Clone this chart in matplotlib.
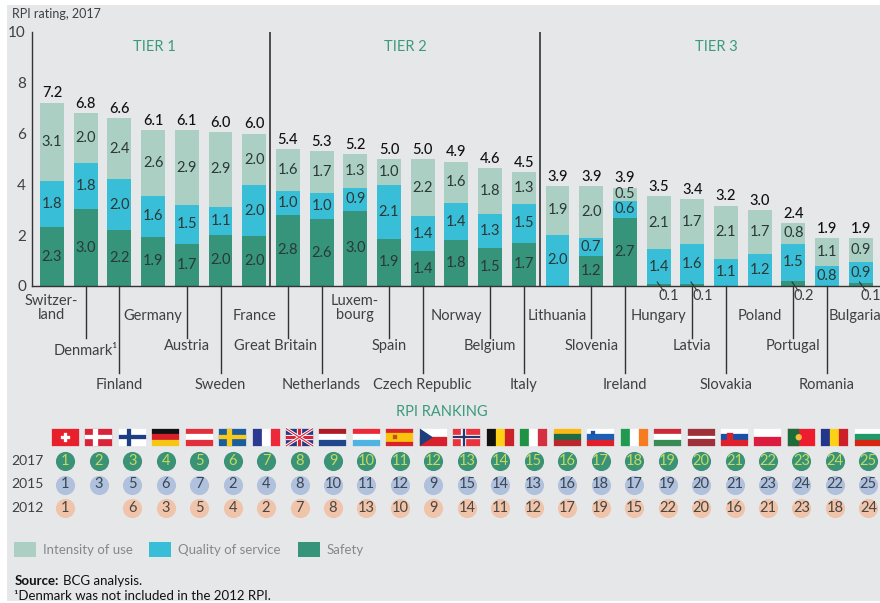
import matplotlib
matplotlib.use('Agg')
import matplotlib.pyplot as plt
from matplotlib.patches import Rectangle, Polygon, Circle
from matplotlib.transforms import blended_transform_factory

plt.rcParams['font.family'] = ['Lato', 'DejaVu Sans']

countries = ['Switzerland', 'Denmark', 'Finland', 'Germany', 'Austria', 'Sweden', 'France',
             'Great Britain', 'Netherlands', 'Luxembourg', 'Spain', 'Czech Republic', 'Norway',
             'Belgium', 'Italy', 'Lithuania', 'Slovenia', 'Ireland', 'Hungary', 'Latvia',
             'Slovakia', 'Poland', 'Portugal', 'Romania', 'Bulgaria']

# names as printed under the axis
names = ['Switzer-\nland', 'Denmark¹', 'Finland', 'Germany', 'Austria', 'Sweden', 'France',
         'Great Britain', 'Netherlands', 'Luxem-\nbourg', 'Spain', 'Czech Republic', 'Norway',
         'Belgium', 'Italy', 'Lithuania', 'Slovenia', 'Ireland', 'Hungary', 'Latvia',
         'Slovakia', 'Poland', 'Portugal', 'Romania', 'Bulgaria']

safety = [2.31, 3.01, 2.2, 1.93, 1.66, 2.02, 1.96, 2.79, 2.62, 2.96, 1.86, 1.36, 1.81,
          1.49, 1.7, 0, 1.16, 2.69, 0.08, 0.08, 0, 0, 0.2, 0, 0.1]
quality = [1.82, 1.82, 2.0, 1.61, 1.52, 1.1, 1.99, 0.96, 1.04, 0.91, 2.12, 1.39, 1.44,
           1.34, 1.52, 2.02, 0.72, 0.64, 1.36, 1.58, 1.07, 1.24, 1.46, 0.8, 0.86]
intensity = [3.08, 1.98, 2.4, 2.59, 2.94, 2.92, 2.04, 1.62, 1.66, 1.33, 1.02, 2.24, 1.64,
             1.81, 1.26, 1.91, 2.04, 0.54, 2.1, 1.74, 2.09, 1.74, 0.83, 1.1, 0.92]
totals = [7.2, 6.8, 6.6, 6.1, 6.1, 6.0, 6.0, 5.4, 5.3, 5.2, 5.0, 5.0, 4.9,
          4.6, 4.5, 3.9, 3.9, 3.9, 3.5, 3.4, 3.2, 3.0, 2.4, 1.9, 1.9]

rank_2017 = list(range(1, 26))
rank_2015 = [1, 3, 5, 6, 7, 2, 4, 8, 10, 11, 12, 9, 15, 14, 13, 16, 18, 17, 19, 20, 21, 23, 24, 22, 25]
rank_2012 = [1, None, 6, 3, 5, 4, 2, 7, 8, 13, 10, 9, 14, 11, 12, 17, 19, 15, 22, 20, 16, 21, 23, 18, 24]

tiers = ['TIER 1', 'TIER 2', 'TIER 3']

c_int = '#abcfc3'
c_qual = '#38bfd7'
c_safe = '#36947a'
c_bg = '#e6e7e9'
c_green = '#3a9a7e'
c_text = '#3d4044'

W, H = 880, 603
fig = plt.figure(figsize=(W / 100, H / 100), dpi=100, facecolor='white')

# overlay in pixel units, for background, flags and footer
ov = fig.add_axes([0, 0, 1, 1])
ov.set_xlim(0, W)
ov.set_ylim(H, 0)
ov.axis('off')
ov.add_patch(Rectangle((7, 5), W - 7, 596, color=c_bg, lw=0))

# bars: index i sits at 52 + 33.7*i px
bar_x0, bar_dx = 52, 33.7
left, y0_px, y10_px = 31.5, 286, 31.5
ax = fig.add_axes([left / W, (H - y0_px) / H, (W - left) / W, (y0_px - y10_px) / H])
ax.patch.set_alpha(0)
ax.set_xlim((left - bar_x0) / bar_dx, (W - bar_x0) / bar_dx)
ax.set_ylim(0, 10)

x = list(range(len(countries)))
bottom2 = [a + b for a, b in zip(safety, quality)]
tops = [a + b for a, b in zip(bottom2, intensity)]
b1 = ax.bar(x, safety, width=0.71, color=c_safe, label='Safety')
b2 = ax.bar(x, quality, width=0.71, bottom=safety, color=c_qual, label='Quality of service')
b3 = ax.bar(x, intensity, width=0.71, bottom=bottom2, color=c_int, label='Intensity of use')

for cont, vals in [(b1, safety), (b2, quality), (b3, intensity)]:
    labs = [f'{v:.1f}' if v >= 0.3 else '' for v in vals]
    ax.bar_label(cont, labels=labs, label_type='center', fontsize=10.5, color='#2c3836')

for i, t in enumerate(totals):
    ax.annotate(f'{t:.1f}', (i, tops[i]), xytext=(0, 1.5), textcoords='offset points', ha='center',
                va='bottom', fontsize=10.5, fontweight='medium', color='#111111')

for s in ['top', 'right']:
    ax.spines[s].set_visible(False)
ax.spines['left'].set_linewidth(1)
ax.spines['bottom'].set_linewidth(1)
ax.spines['left'].set_color('#333333')
ax.spines['bottom'].set_color('#333333')
ax.set_xticks([])
ax.set_yticks([0, 2, 4, 6, 8, 10])
ax.tick_params(axis='y', length=0, pad=4, labelsize=11, labelcolor=c_text)

# tier separators and titles
ax.vlines([6.47, 14.47], 0, 10, color='#333333', lw=1.2)
for name, xc in zip(tiers, [3.05, 10.5, 19.7]):
    ax.text(xc, 9.4, name, ha='center', va='center', fontsize=10.5, color=c_green)

# country names with their leader lines, three staggered rows
trans = blended_transform_factory(ax.transData, ov.transData)
for i, name in enumerate(names):
    row = i % 3
    line_end = [286, 337.5, 372.5][row]
    label_y = [316, 346, 385][row]
    dx = 0
    if name == 'Great Britain':
        dx = -0.37
    if name == 'Denmark¹':
        label_y = 351
    if name == 'Bulgaria':
        dx = -0.17
    if '\n' in name:
        label_y = 308
        dx = -0.02
    if row > 0:
        ax.plot([i, i], [286, line_end], transform=trans, color='#333333', lw=1, clip_on=False)
    ax.text(i + dx, label_y, name, transform=trans, ha='center', va='center', fontsize=10.5,
            color=c_text, linespacing=0.95, clip_on=False)

# small safety values that don't fit in their bars
for i, v in enumerate(safety):
    if 0 < v < 0.3:
        ax.plot([i - 0.04, i + 0.15], [282, 291], transform=trans, color='#333333', lw=0.8, clip_on=False)
        ax.text(i + 0.3, 295.5, f'{v:.1f}', transform=trans, ha='center', va='center', fontsize=10.5,
                color=c_text, clip_on=False)

ov.text(12, 13.5, 'RPI rating, 2017', fontsize=9, color=c_text, va='center')
ov.text(442, 412, 'RPI RANKING', fontsize=10.5, color=c_green, ha='center', va='center')

# flags, drawn in pixels
fw, fh = 27, 17.5
rank_x0, rank_dx = 65.3, 33.46
fy = 428.5

flag_h = {'Germany': ['#111111', '#d8202a', '#f7c612'], 'Austria': ['#e0303c', '#ffffff', '#e0303c'],
          'Netherlands': ['#ae1c28', '#ffffff', '#21468b'], 'Luxembourg': ['#ed2939', '#ffffff', '#4fb3e3'],
          'Lithuania': ['#fdb913', '#1f6b45', '#b9272d'], 'Slovenia': ['#ffffff', '#1a5fb4', '#e01f2d'],
          'Hungary': ['#ce2939', '#ffffff', '#3a8a55'], 'Slovakia': ['#ffffff', '#1a50a8', '#e01f2d'],
          'Bulgaria': ['#ffffff', '#1f9a6b', '#d62612'], 'Poland': ['#ffffff', '#dc1c3e'],
          'Spain': ['#d8232a', '#f8c20e', '#f8c20e', '#d8232a'], 'Czech Republic': ['#ffffff', '#d7202c'],
          'Latvia': ['#9e3039', '#9e3039', '#ffffff', '#9e3039', '#9e3039']}
flag_v = {'France': ['#2b3990', '#ffffff', '#ed2939'], 'Belgium': ['#111111', '#fcd116', '#ce2028'],
          'Italy': ['#1f9245', '#ffffff', '#d43040'], 'Ireland': ['#1f9a50', '#ffffff', '#f57c20'],
          'Romania': ['#23368c', '#fcd116', '#ce2028']}
flag_cross = {'Denmark': ('#d8233a', '#ffffff', None), 'Finland': ('#ffffff', '#1f3f85', None),
              'Sweden': ('#1b5d9c', '#f8c91a', None), 'Norway': ('#e8343c', '#ffffff', '#23366e')}


def rect(fx, rx, ry, rw, rh, col):
    ov.add_patch(Rectangle((fx + rx, fy + ry), rw, rh, facecolor=col, edgecolor=col, lw=0.2))


for i, c in enumerate(countries):
    fx = rank_x0 + rank_dx * i - fw / 2
    if c in flag_h:
        n = len(flag_h[c])
        for k, col in enumerate(flag_h[c]):
            rect(fx, 0, k * fh / n, fw, fh / n, col)
    elif c in flag_v:
        n = len(flag_v[c])
        for k, col in enumerate(flag_v[c]):
            rect(fx, k * fw / n, 0, fw / n, fh, col)
    elif c == 'Switzerland':
        rect(fx, 0, 0, fw, fh, '#e8202c')
        rect(fx, fw / 2 - 4.5, fh / 2 - 1.5, 9, 3, '#ffffff')
        rect(fx, fw / 2 - 1.5, fh / 2 - 4.5, 3, 9, '#ffffff')
    elif c in flag_cross:
        base, cross, inner = flag_cross[c]
        rect(fx, 0, 0, fw, fh, base)
        rect(fx, 0, fh / 2 - 2.2, fw, 4.4, cross)
        rect(fx, 8, 0, 4.4, fh, cross)
        if inner:
            rect(fx, 0, fh / 2 - 1, fw, 2, inner)
            rect(fx, 9.2, 0, 2, fh, inner)
    elif c == 'Great Britain':
        rect(fx, 0, 0, fw, fh, '#27387e')
        for col, lw in [('#ffffff', 2.2), ('#d8233a', 0.8)]:
            ov.plot([fx, fx + fw], [fy, fy + fh], color=col, lw=lw, solid_capstyle='butt')
            ov.plot([fx, fx + fw], [fy + fh, fy], color=col, lw=lw, solid_capstyle='butt')
        rect(fx, 0, fh / 2 - 2.6, fw, 5.2, '#ffffff')
        rect(fx, fw / 2 - 2.6, 0, 5.2, fh, '#ffffff')
        rect(fx, 0, fh / 2 - 1.4, fw, 2.8, '#d8233a')
        rect(fx, fw / 2 - 1.4, 0, 2.8, fh, '#d8233a')
    elif c == 'Portugal':
        rect(fx, 0, 0, fw, fh, '#ed1c2e')
        rect(fx, 0, 0, fw * 0.4, fh, '#1c6b3a')
        ov.add_patch(Circle((fx + fw * 0.4, fy + fh / 2), 3.2, color='#f0c040', lw=0))
    # small emblems
    if c == 'Spain':
        rect(fx, 7, fh / 2 - 2.2, 4, 4.4, '#c1501e')
    if c == 'Czech Republic':
        ov.add_patch(Polygon([(fx, fy), (fx + 13, fy + fh / 2), (fx, fy + fh)], color='#1f3f7a', lw=0))
    if c == 'Slovenia':
        rect(fx, 4, 2, 4, 4.5, '#1a50a8')
    if c == 'Slovakia':
        rect(fx, 6, 4.5, 5.5, 8, '#e01f2d')

# ranking rows, rows sit 23.5 px apart starting at 461 px
rk = fig.add_axes([0, (H - 530) / H, 1, 90 / H])
rk.patch.set_alpha(0)
rk.axis('off')
rk.set_xlim(-rank_x0 / rank_dx, (W - rank_x0) / rank_dx)
rk.set_ylim((530 - 461) / 23.5, (440 - 461) / 23.5)
rows = [('2017', rank_2017, '#3a9277', '#c4dc5c'), ('2015', rank_2015, '#afc1dc', '#3c4654'),
        ('2012', rank_2012, '#f0c3ab', '#4a4640')]
for r, (year, ranks, fill, col) in enumerate(rows):
    xs = [i for i, v in enumerate(ranks) if v is not None]
    vs = [ranks[i] for i in xs]
    rk.scatter(xs, [r] * len(xs), s=190, color=fill, linewidths=0, clip_on=False)
    for a, v in zip(xs, vs):
        rk.text(a, r, str(v), ha='center', va='center', fontsize=10.5, color=col)
    rk.text(-1.12, r, year, ha='center', va='center', fontsize=10, color=c_text)

# legend, in the original order
leg = fig.legend(handles=[b3, b2, b1], loc='lower left', bbox_to_anchor=(13.5 / W, (H - 557) / H), ncols=3,
                 frameon=False, fontsize=9.5, borderpad=0, borderaxespad=0, handlelength=1.67, handleheight=1.37,
                 handletextpad=0.53, columnspacing=1.29, labelcolor='#85898c')

src = ov.text(14.5, 581, 'Source:', fontsize=9.5, fontweight='bold', color='#111111', va='center')
ov.text(63, 581, 'BCG analysis.', fontsize=9.5, color='#111111', va='center')
ov.text(14.5, 596.5, '¹Denmark was not included in the 2012 RPI.', fontsize=9.5, color='#111111', va='center')

fig.savefig('out.png', dpi=100)
